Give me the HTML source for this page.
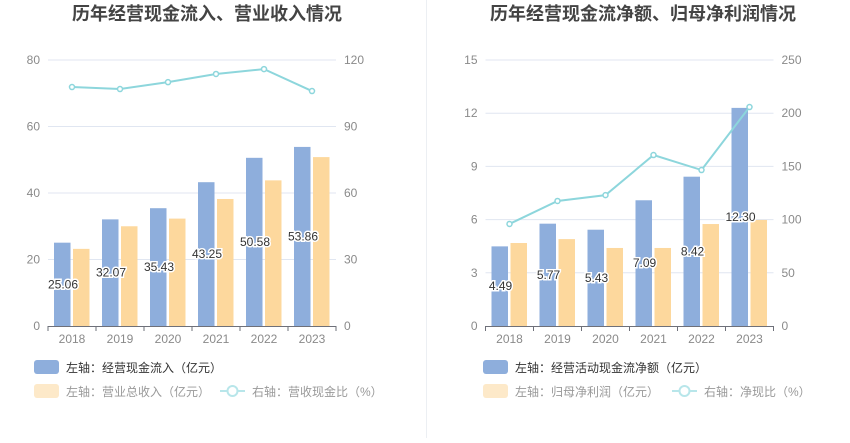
<!DOCTYPE html>
<html><head><meta charset="utf-8"><style>
body{margin:0;background:#fff;}
svg text{font-family:"Liberation Sans","Noto Sans CJK SC",sans-serif;}
</style></head><body>
<svg id="c" width="850" height="438" xmlns="http://www.w3.org/2000/svg">
<line x1="426.5" y1="0" x2="426.5" y2="438" stroke="#eceff3"/>
</svg>
<script>
const years=["2018","2019","2020","2021","2022","2023"];
const cashIn=[25.06,32.07,35.43,43.25,50.58,53.86];
const revenue=[23.2,30.0,32.3,38.2,43.8,50.8];
const cashRatio=[107.8,106.9,110.0,113.7,115.9,106.0];
const leftTicks=[0,20,40,60,80];
const leftRTicks=[0,30,60,90,120];
const netCash=[4.49,5.77,5.43,7.09,8.42,12.30];
const netProfit=[4.68,4.9,4.4,4.4,5.75,5.98];
const netRatio=[95.9,117.5,123.0,160.7,146.6,205.8];
const rightTicks=[0,3,6,9,12,15];
const rightRTicks=[0,50,100,150,200,250];

const svg=document.getElementById('c');
const NS='http://www.w3.org/2000/svg';
function mk(t,a,txt){const e=document.createElementNS(NS,t);for(const k in a)e.setAttribute(k,a[k]);if(txt!==undefined)e.textContent=txt;svg.appendChild(e);return e;}

function chart(o){
  const top=60,bot=326,x0=o.x0,x1=o.x0+288,bw=48;
  const y=v=>bot-(v/o.lmax)*(bot-top);
  const yr=v=>bot-(v/o.rmax)*(bot-top);
  const cx=i=>x0+24+bw*i;
  let e=mk('text',{x:o.tx,y:20,'text-anchor':'middle','font-size':'18','font-weight':'bold',fill:'#444'},o.title);
  
  
  o.lt.forEach((t,i)=>{
    const yy=y(t);
    if(t>0){e=mk('line',{x1:x0,x2:x1,y1:yy,y2:yy,stroke:'#e0e6f1'});
    
    }
    e=mk('text',{x:x0-8,y:yy+4,'text-anchor':'end','font-size':'12',fill:'#8a8a8a'},t);
    
    
    e=mk('text',{x:x1+8,y:yr(o.rt[i])+4,'text-anchor':'start','font-size':'12',fill:'#8a8a8a'},o.rt[i]);
    
    
  });
  years.forEach((yrL,i)=>{
    const c=cx(i);
    e=mk('rect',{x:c-18,y:y(o.a[i]),width:16.5,height:bot-y(o.a[i]),fill:'#8eaedc'});
    
    
    e=mk('rect',{x:c+1,y:y(o.b[i]),width:16.5,height:bot-y(o.b[i]),fill:'#fdd89d'});
    
    
    e=mk('text',{x:c,y:bot+17,'text-anchor':'middle','font-size':'12',fill:'#8a8a8a'},yrL);
    
    
    e=mk('line',{x1:c-24,x2:c-24,y1:bot,y2:bot+5,stroke:'#6e7079'});
    
    
  });
  e=mk('line',{x1:x1,x2:x1,y1:bot,y2:bot+5,stroke:'#6e7079'});
  
  
  e=mk('line',{x1:x0,x2:x1,y1:bot+.5,y2:bot+.5,stroke:'#6e7079'});
  
  
  const pts=o.r.map((v,i)=>cx(i)+','+yr(v)).join(' ');
  e=mk('polyline',{points:pts,fill:'none',stroke:'#8dd6dc','stroke-width':2});
  
  
  o.r.forEach((v,i)=>{
    e=mk('circle',{cx:cx(i),cy:yr(v),r:2.5,fill:'#fff',stroke:'#8dd6dc','stroke-width':1.5});
    
    
  });
  o.a.forEach((v,i)=>{
    e=mk('text',{x:cx(i)-9,y:y(v/2)+4,'text-anchor':'middle','font-size':'12',fill:'#333',stroke:'#fff','stroke-width':3,'paint-order':'stroke'},o.fmt(v));
    
    
  });
  const lx=o.lx;
  e=mk('rect',{x:lx,y:360,width:25,height:14,rx:3,fill:'#8eaedc'});
  
  
  e=mk('text',{x:lx+32,y:372,'font-size':'12',fill:'#333'},o.l1);
  
  
  e=mk('rect',{x:lx,y:384,width:25,height:14,rx:3,fill:'#fde9c9'});
  
  
  e=mk('text',{x:lx+32,y:396,'font-size':'12',fill:'#999'},o.l2);
  
  
  const l3=lx+o.l3x;
  e=mk('line',{x1:l3,x2:l3+25,y1:391,y2:391,stroke:'#b8e6ea','stroke-width':2});
  
  
  e=mk('circle',{cx:l3+12.5,cy:391,r:5,fill:'#fff',stroke:'#b8e6ea','stroke-width':2});
  
  
  e=mk('text',{x:l3+32,y:396,'font-size':'12',fill:'#999'},o.l3);
  
  
}
chart({p:'left',x0:48,lmax:80,rmax:120,lt:leftTicks,rt:leftRTicks,a:cashIn,b:revenue,r:cashRatio,
  title:'历年经营现金流入、营业收入情况',tx:207,lx:34,fmt:v=>v.toFixed(2),
  l1:'左轴：经营现金流入（亿元）',l2:'左轴：营业总收入（亿元）',l3:'右轴：营收现金比（%）',l3x:186});
chart({p:'right',x0:485.5,lmax:15,rmax:250,lt:rightTicks,rt:rightRTicks,a:netCash,b:netProfit,r:netRatio,
  title:'历年经营现金流净额、归母净利润情况',tx:643,lx:483,fmt:v=>v.toFixed(2),
  l1:'左轴：经营活动现金流净额（亿元）',l2:'左轴：归母净利润（亿元）',l3:'右轴：净现比（%）',l3x:189});
</script>
</body></html>
